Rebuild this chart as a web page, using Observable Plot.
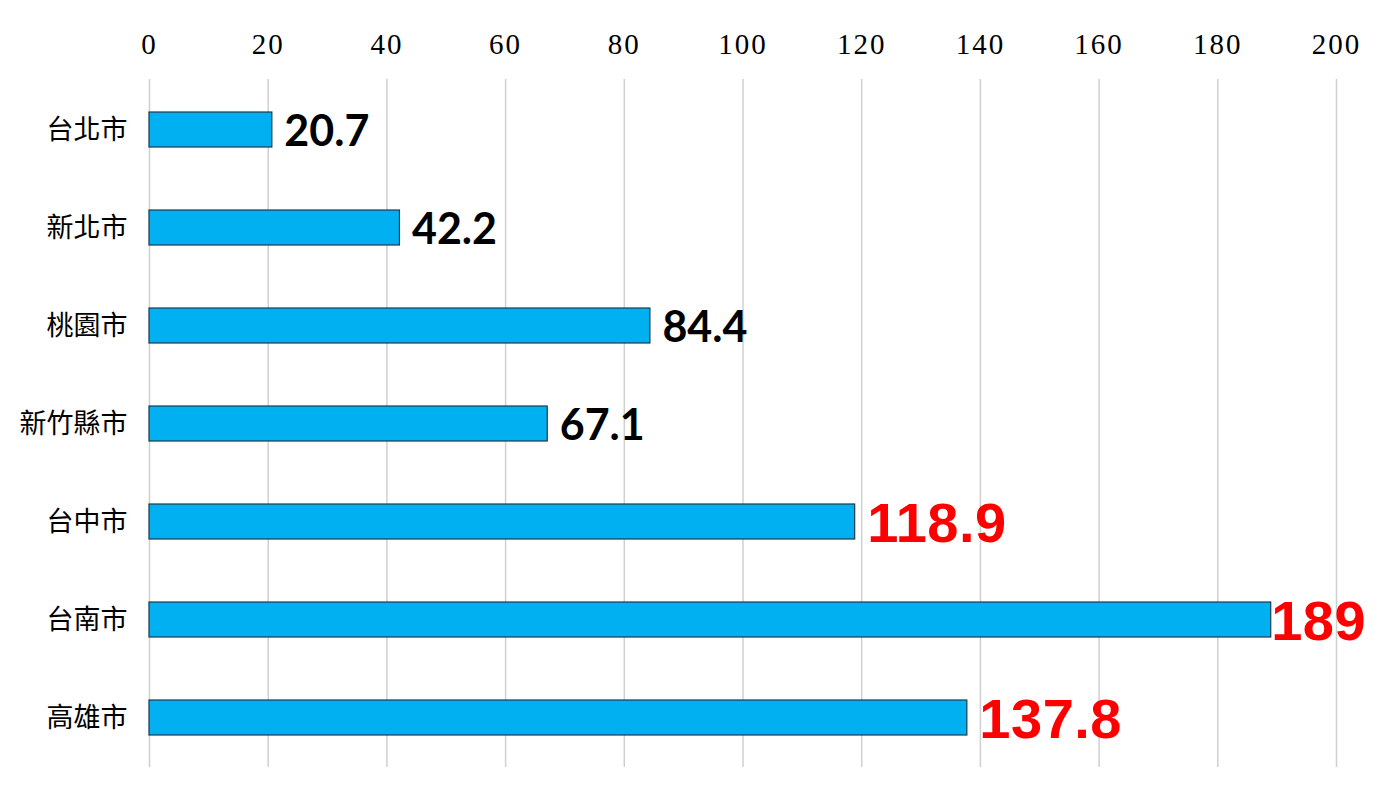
<!DOCTYPE html>
<html>
<head>
<meta charset="utf-8">
<script src="https://cdn.jsdelivr.net/npm/d3@7"></script>
<script src="https://cdn.jsdelivr.net/npm/@observablehq/plot@0.6"></script>
<style>
  html, body { margin: 0; padding: 0; background: #fff; }
  #chart svg { display: block; }
  #chart g[aria-label="x-axis tick label"] text { letter-spacing: 2px; }
  #chart g.red-label text { letter-spacing: 0.5px; }
</style>
</head>
<body>
<div id="chart"></div>
<script>
const cities = ["台北市", "新北市", "桃園市", "新竹縣市", "台中市", "台南市", "高雄市"];
const values = [20.7, 42.2, 84.4, 67.1, 118.9, 189, 137.8];
const xTicks = [0, 20, 40, 60, 80, 100, 120, 140, 160, 180, 200];

const data = cities.map((c, i) => ({city: c, value: values[i]}));
const isHigh = d => d.value > 100;
const isMax = d => d.value === d3.max(values);

const chart = Plot.plot({
  width: 1379,
  height: 800,
  marginTop: 79,
  marginBottom: 33,
  marginLeft: 149,
  marginRight: 43,
  style: {background: "#fff", overflow: "visible"},
  x: {domain: [0, 200], axis: null, label: null},
  y: {domain: cities, axis: null, label: null, paddingInner: 0.644, paddingOuter: 0.322},
  marks: [
    Plot.gridX(xTicks, {stroke: "#d0d0d0", strokeOpacity: 1, strokeWidth: 1.5}),
    Plot.axisX(xTicks, {
      anchor: "top", tickSize: 0, tickPadding: 26, label: null,
      fontFamily: "Liberation Serif", fontSize: 29, fill: "#000",
      tickFormat: d => String(d)
    }),
    Plot.axisY({
      anchor: "left", tickSize: 0, tickPadding: 22, label: null,
      fontFamily: "Noto Sans CJK TC", fontSize: 27, fill: "#000"
    }),
    Plot.barX(data, {y: "city", x: "value", fill: "#00B0F0", stroke: "#1d3a4a", strokeWidth: 1.2}),
    Plot.text(data.filter(d => !isHigh(d)), {
      y: "city", x: "value", text: d => String(d.value),
      textAnchor: "start", dx: 12, dy: 2, fill: "#000",
      fontFamily: "Lato", fontWeight: "bold", fontSize: 43
    }),
    Plot.text(data.filter(d => isHigh(d) && !isMax(d)), {
      y: "city", x: "value", text: d => String(d.value),
      textAnchor: "start", dx: 12, dy: 2, fill: "#ff0000", className: "red-label",
      fontFamily: "Liberation Sans", fontWeight: "bold", fontSize: 56
    }),
    Plot.text(data.filter(isMax), {
      y: "city", x: "value", text: d => String(d.value),
      textAnchor: "start", dx: 0, dy: 2, fill: "#ff0000", className: "red-label",
      fontFamily: "Liberation Sans", fontWeight: "bold", fontSize: 56
    })
  ]
});
document.getElementById("chart").appendChild(chart);
</script>
</body>
</html>
